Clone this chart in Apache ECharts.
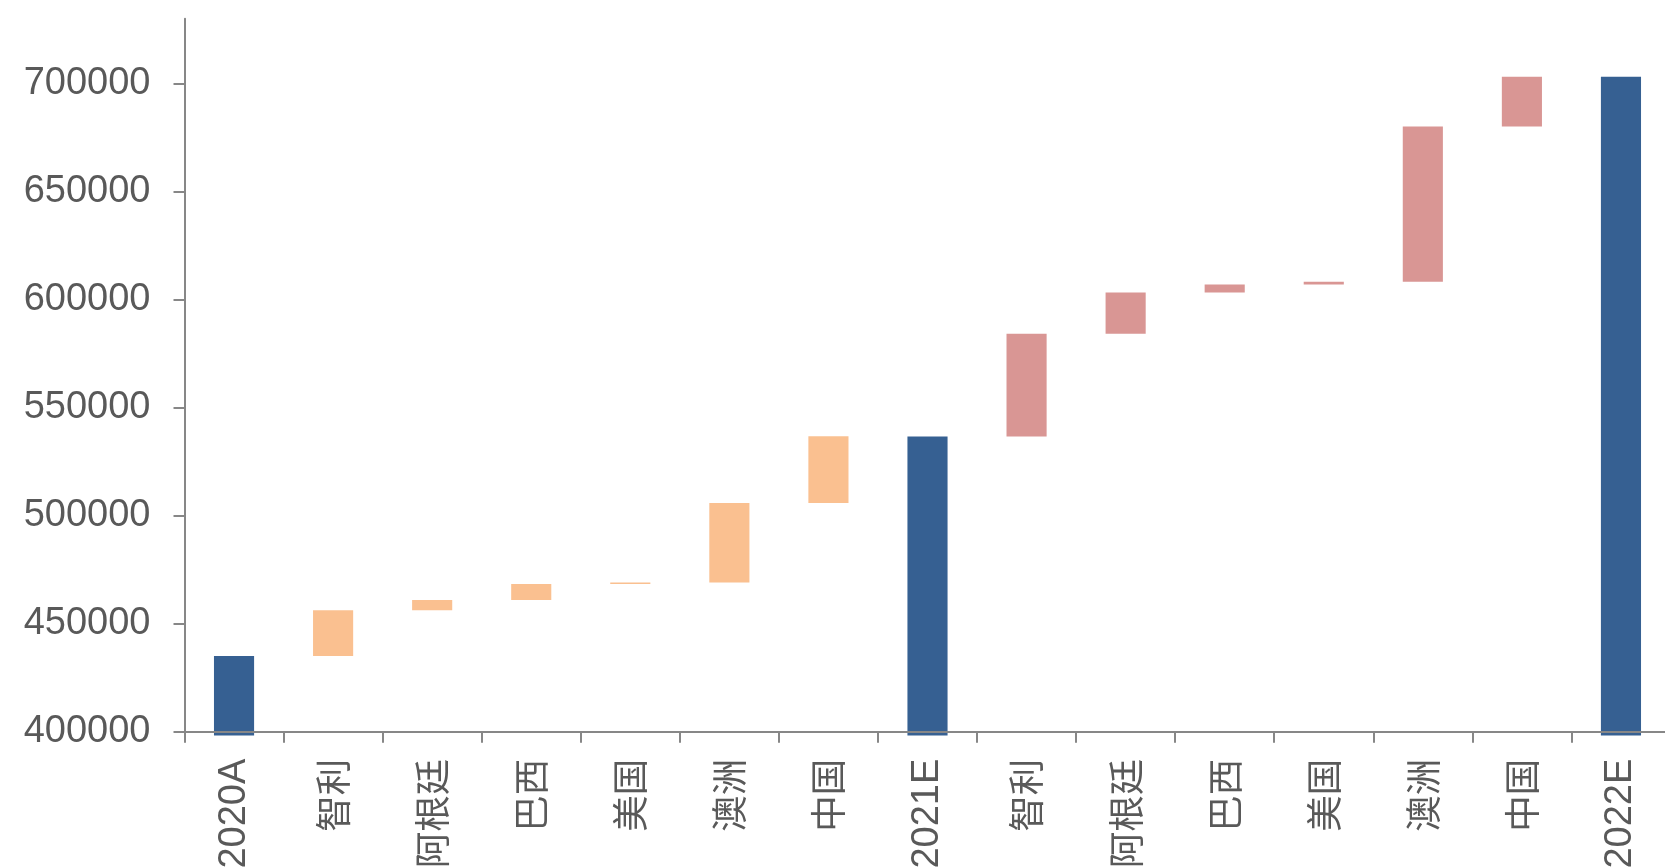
<!DOCTYPE html>
<html>
<head>
<meta charset="utf-8">
<script src="https://cdn.jsdelivr.net/npm/echarts@6/dist/echarts.min.js"></script>
<style>
  html, body { margin: 0; padding: 0; background: #ffffff; }
  #chart { width: 1665px; height: 868px; }
</style>
</head>
<body>
<div id="chart"></div>
<script>
// Categories along the x axis
const categories = ['2020A', '智利', '阿根廷', '巴西', '美国', '澳洲', '中国', '2021E',
                    '智利', '阿根廷', '巴西', '美国', '澳洲', '中国', '2022E'];
// Level reached at the top of each bar
const levels = [435000, 456200, 460900, 468400, 469000, 505900, 536800, 536600,
                584200, 603300, 607000, 608300, 680100, 703100, 703100];
// Bar kind: total bars, 2021 increments, 2022 increments
const kinds = ['total', 'inc21', 'inc21', 'inc21', 'inc21', 'inc21', 'inc21', 'total',
               'inc22', 'inc22', 'inc22', 'inc22', 'inc22', 'inc22', 'total'];
// Y axis tick labels
const yTicks = [400000, 450000, 500000, 550000, 600000, 650000, 700000];

const colors = { total: '#366092', inc21: '#FAC090', inc22: '#D99694' };
const totalBase = 398200; // total bars start slightly below the axis line

const baseData = [];
const barData = [];
for (let i = 0; i < categories.length; i++) {
  const start = kinds[i] === 'total' ? totalBase : levels[i - 1];
  baseData.push(start);
  barData.push({ value: levels[i] - start, itemStyle: { color: colors[kinds[i]] } });
}

const fontFamily = '"Liberation Sans", Arial, "Noto Sans CJK SC", sans-serif';
const cjkFamily = '"Noto Sans CJK SC", "Liberation Sans", sans-serif';
const axisColor = '#878787';
const labelColor = '#595959';

const chart = echarts.init(document.getElementById('chart'), null, { renderer: 'canvas' });
chart.setOption({
  animation: false,
  backgroundColor: '#ffffff',
  grid: {
    left: 184.5, right: -5.5, top: 18.7, bottom: 136.3,
    containLabel: false,
    outerBoundsMode: 'none'
  },
  xAxis: {
    type: 'category',
    data: categories,
    z: 5,
    axisLine: { show: true, lineStyle: { color: axisColor, width: 2 } },
    axisTick: { show: true, length: 11, lineStyle: { color: axisColor, width: 2 } },
    axisLabel: {
      rotate: 90,
      margin: 27,
      fontSize: 38,
      color: labelColor,
      fontFamily: fontFamily,
      interval: 0,
      hideOverlap: false,
      formatter: function (v) {
        return /[\u4e00-\u9fff]/.test(v) ? '{c|' + v + '}' : v;
      },
      rich: {
        c: { fontSize: 36.5, fontFamily: cjkFamily, color: labelColor }
      }
    },
    splitLine: { show: false }
  },
  yAxis: {
    type: 'value',
    min: 400000,
    max: 730000,
    interval: 50000,
    z: 5,
    axisLine: { show: true, lineStyle: { color: axisColor, width: 2 } },
    axisTick: { show: true, length: 11, customValues: yTicks, lineStyle: { color: axisColor, width: 2 } },
    axisLabel: {
      customValues: yTicks,
      margin: 34,
      fontSize: 38,
      color: labelColor,
      fontFamily: fontFamily,
      formatter: function (v) { return String(v); }
    },
    splitLine: { show: false }
  },
  series: [
    {
      type: 'bar',
      stack: 'w',
      silent: true,
      data: baseData,
      barWidth: '40.5%',
      itemStyle: { color: 'rgba(0,0,0,0)' },
      emphasis: { disabled: true }
    },
    {
      type: 'bar',
      stack: 'w',
      data: barData,
      barWidth: '40.5%',
      clip: false,
      emphasis: { disabled: true }
    }
  ]
});
</script>
</body>
</html>
